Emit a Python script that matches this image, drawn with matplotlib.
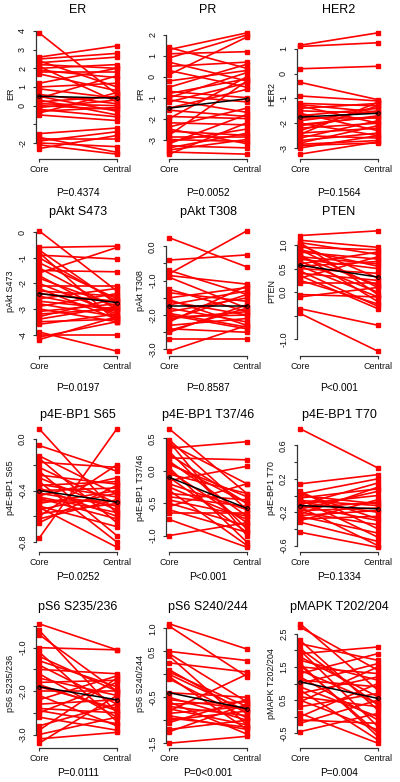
import numpy as np
import matplotlib
matplotlib.use('Agg')
import matplotlib.pyplot as plt

plt.rcParams['font.family'] = ['Liberation Sans', 'DejaVu Sans']
plt.rcParams['axes.unicode_minus'] = False

# paired values (Core -> Central), one pair per tumour
er_core    = [3.9, 2.6, 2.5, 2.4, 2.3, 2.2, 2.1, 2.0, 1.9, 1.8, 1.7, 1.2, 1.0, 0.9, 0.6, 0.5, 0.4, 0.3, 0.2, 0.1, 0.0, -0.1, -0.2, -0.3, -0.4, -0.5, -1.5, -1.7, -1.8, -1.9, -2.0, -2.1, -2.3]
er_central = [0.6, 3.2, 2.8, 1.0, 2.6, 2.0, 0.2, 2.2, 1.5, 1.8, 0.8, 2.0, 1.2, 0.4, 0.1, -0.3, 1.6, -0.5, 0.5, 0.0, -0.2, 0.3, -0.6, -0.1, 0.7, -0.8, -1.2, -2.5, -1.8, -1.4, -2.2, -2.6, -1.6]

pr_core    = [1.4, 1.3, 1.1, 0.9, 0.5, 0.3, 0.1, -0.2, -0.5, -0.8, -0.9, -1.0, -1.2, -1.5, -1.6, -2.0, -2.2, -2.4, -2.6, -2.8, -3.0, -3.1, -3.2, -3.3, -3.4, -3.5, -3.6, -3.7, -2.5, -1.9, -0.7, 0.7, -1.1, -2.9]
pr_central = [0.4, 2.1, 1.2, 2.0, 0.7, -0.5, 1.9, 0.3, 0.6, -0.1, -1.2, 0.2, -0.3, -0.6, -1.9, 0.0, -2.3, -1.5, -2.8, -0.2, -3.1, -2.5, -1.8, -3.4, -2.7, -3.0, -3.7, -2.2, -3.2, -2.0, -1.0, -0.2, -1.7, -2.9]

her2_core    = [1.15, 1.1, 0.2, -0.35, -0.9, -1.2, -1.3, -1.4, -1.5, -1.6, -1.7, -1.8, -1.9, -2.0, -2.1, -2.2, -2.3, -2.4, -2.5, -2.6, -2.7, -2.8, -2.85, -2.9, -3.0, -3.25, -1.25, -2.05, -2.45]
her2_central = [1.65, 1.25, 0.3, -1.05, -1.1, -1.3, -2.0, -1.2, -1.6, -2.3, -1.4, -1.8, -1.5, -2.5, -1.7, -2.0, -1.3, -2.2, -2.6, -1.9, -2.4, -2.1, -2.7, -2.8, -2.5, -2.75, -1.55, -1.75, -1.15]

s473_core    = [0.05, -0.6, -0.7, -0.8, -0.9, -1.2, -1.4, -1.5, -1.6, -1.8, -2.0, -2.1, -2.2, -2.3, -2.4, -2.5, -2.6, -2.7, -2.8, -2.9, -3.0, -3.1, -3.2, -3.3, -3.5, -3.6, -3.9, -4.0, -4.1, -4.2, -1.0, -1.7, -3.4]
s473_central = [-2.3, -0.55, -2.8, -3.5, -1.05, -2.6, -3.0, -1.55, -0.6, -2.9, -3.2, -2.1, -3.4, -2.5, -2.7, -3.1, -2.2, -3.0, -3.3, -2.4, -3.5, -2.8, -3.0, -2.6, -3.4, -3.2, -4.65, -4.0, -3.5, -3.3, -2.7, -3.3, -2.9]

t308_core    = [0.25, -0.4, -0.7, -0.8, -0.85, -0.9, -1.35, -1.5, -1.6, -1.7, -1.8, -1.9, -2.0, -2.1, -2.2, -2.3, -2.4, -2.5, -2.7, -3.05, -1.55, -2.05, -2.45, -1.25, -1.95, -2.15]
t308_central = [-0.6, -0.25, -1.4, 0.45, -1.1, -1.8, -1.6, -1.2, -2.0, -1.3, -2.2, -1.5, -2.4, -1.9, -1.15, -2.1, -2.5, -1.7, -2.7, -2.3, -2.3, -2.0, -1.8, -1.9, -2.35, -1.4]

pten_core    = [1.2, 1.1, 1.05, 1.0, 0.95, 0.9, 0.85, 0.8, 0.75, 0.7, 0.65, 0.6, 0.55, 0.5, 0.45, 0.4, 0.35, 0.3, 0.2, 0.25, -0.1, -0.05, -0.35, -0.45, 0.9, 1.05, 0.75, 0.55]
pten_central = [1.3, 0.95, 0.8, 0.3, 0.9, 0.1, 0.7, -0.2, 0.6, 0.5, 0.0, 0.85, -0.1, 0.4, -0.3, 0.25, -0.35, 0.75, 0.2, -0.25, 0.1, -0.1, -0.7, -1.25, 0.55, -0.05, 0.15, 0.65]

s65_core    = [0.08, -0.05, -0.13, -0.15, -0.18, -0.22, -0.25, -0.28, -0.3, -0.33, -0.35, -0.38, -0.4, -0.42, -0.44, -0.46, -0.48, -0.5, -0.52, -0.55, -0.58, -0.6, -0.62, -0.65, -0.77, -0.53, -0.45, -0.36]
s65_central = [-0.58, -0.25, -0.43, -0.65, -0.22, -0.5, -0.75, -0.35, -0.55, -0.8, -0.45, -0.6, -0.38, -0.52, -0.3, -0.62, -0.48, -0.4, -0.68, -0.42, -0.5, -0.2, -0.47, -0.36, 0.08, -0.84, -0.57, -0.33]

t3746_core    = [0.65, 0.48, 0.42, 0.35, 0.3, 0.25, 0.2, 0.15, 0.1, 0.05, 0.0, -0.05, -0.1, -0.15, -0.2, -0.25, -0.3, -0.35, -0.4, -0.5, -0.55, -0.65, -0.75, -1.0, 0.45, -0.45, 0.12, -0.6]
t3746_central = [-0.35, -0.6, -0.2, 0.45, -0.9, -0.5, 0.17, -0.7, -0.4, -1.1, -0.8, -0.35, -0.95, 0.07, -0.6, -0.75, -1.15, -0.45, -0.55, -0.85, -0.2, -0.65, -1.18, -0.8, -1.0, -0.7, -0.5, -0.95]

t70_core    = [0.8, 0.14, 0.05, 0.02, 0.0, -0.03, -0.05, -0.08, -0.1, -0.12, -0.14, -0.16, -0.18, -0.2, -0.22, -0.25, -0.28, -0.3, -0.32, -0.44, -0.06, -0.15, -0.24, 0.03, -0.11]
t70_central = [0.33, 0.25, -0.4, 0.2, -0.1, 0.08, -0.5, -0.2, 0.0, -0.3, -0.6, 0.05, -0.15, -0.35, 0.1, -0.45, -0.25, -0.05, -0.55, -0.62, -0.12, -0.08, -0.18, -0.28, 0.15]

s235_core    = [-0.45, -0.6, -0.7, -1.0, -1.1, -1.3, -1.4, -1.5, -1.6, -1.7, -1.8, -1.9, -2.0, -2.1, -2.2, -2.3, -2.4, -2.5, -2.6, -2.8, -2.9, -3.0, -3.1, -3.2, -1.2, -2.45, -1.85]
s235_central = [-1.05, -2.5, -2.0, -1.05, -2.7, -1.9, -2.3, -1.6, -2.6, -2.1, -1.75, -2.4, -2.0, -2.8, -1.65, -2.2, -2.5, -1.8, -2.9, -2.3, -1.7, -2.6, -2.95, -2.1, -2.0, -2.75, -2.45]

s240_core    = [1.1, 1.05, 0.5, 0.45, 0.4, 0.25, 0.05, 0.0, -0.05, -0.1, -0.4, -0.5, -0.55, -0.6, -0.65, -0.7, -0.75, -0.8, -0.85, -0.9, -1.0, -1.05, -1.2, -1.25, -1.5, -0.95, 0.1]
s240_central = [0.55, -0.05, 0.3, -0.6, -1.1, 0.05, -0.7, -0.8, -1.2, -0.95, -0.5, -1.0, -0.75, -1.3, -0.6, -0.9, -1.1, 0.0, -0.7, -1.2, -0.8, -0.55, -1.0, -0.65, -1.35, -1.15, -0.85]

mapk_core    = [2.8, 2.7, 2.3, 2.2, 2.0, 1.9, 1.8, 1.7, 1.6, 1.5, 1.4, 1.3, 1.2, 1.1, 1.0, 0.9, 0.8, 0.7, 0.6, 0.5, 0.3, 0.1, 0.0, -0.1, -0.2, -0.45, 1.55, 0.45, 2.05]
mapk_central = [0.8, 1.4, 0.2, 1.7, -0.3, 2.1, 0.6, 1.1, -0.6, 1.3, 0.4, 1.9, -0.1, 0.9, 1.6, 0.0, -0.7, 1.2, 0.3, -0.4, 0.7, -0.8, 1.0, -0.2, 0.5, 0.1, -0.5, 1.5, 0.35]

# group means (black line)
mean_core    = [0.5, -1.5, -1.75, -2.4, -1.75, 0.57, -0.4, -0.1, -0.12, -1.9, -0.4, 1.05]
mean_central = [0.4, -1.05, -1.6, -2.75, -1.75, 0.32, -0.49, -0.58, -0.16, -2.2, -0.75, 0.55]

titles = ['ER', 'PR', 'HER2', 'pAkt S473', 'pAkt T308', 'PTEN',
          'p4E-BP1 S65', 'p4E-BP1 T37/46', 'p4E-BP1 T70',
          'pS6 S235/236', 'pS6 S240/244', 'pMAPK T202/204']
pvals = ['P=0.4374', 'P=0.0052', 'P=0.1564', 'P=0.0197', 'P=0.8587', 'P<0.001',
         'P=0.0252', 'P<0.001', 'P=0.1334', 'P=0.0111', 'P=0<0.001', 'P=0.004']

# y ticks and their labels ('' = tick without label, as R drops overlapping ones)
yticks = [
    ([-2, -1, 0, 1, 2, 3, 4], ['-2', '', '0', '1', '2', '3', '4']),
    ([-3, -2, -1, 0, 1, 2], ['-3', '-2', '-1', '0', '1', '2']),
    ([-3, -2, -1, 0, 1], ['-3', '-2', '-1', '0', '1']),
    ([-4, -3, -2, -1, 0], ['-4', '-3', '-2', '-1', '0']),
    ([-3, -2.5, -2, -1.5, -1, -0.5, 0], ['-3.0', '', '-2.0', '', '-1.0', '', '0.0']),
    ([-1, -0.5, 0, 0.5, 1], ['-1.0', '', '0.0', '0.5', '1.0']),
    ([-0.8, -0.6, -0.4, -0.2, 0], ['-0.8', '', '-0.4', '', '0.0']),
    ([-1, -0.5, 0, 0.5], ['-1.0', '-0.5', '0.0', '0.5']),
    ([-0.6, -0.4, -0.2, 0, 0.2, 0.4, 0.6], ['-0.6', '', '-0.2', '', '0.2', '', '0.6']),
    ([-3, -2.5, -2, -1.5, -1, -0.5], ['-3.0', '', '-2.0', '', '-1.0', '']),
    ([-1.5, -1, -0.5, 0, 0.5, 1], ['-1.5', '', '-0.5', '', '0.5', '1.0']),
    ([-0.5, 0, 0.5, 1, 1.5, 2, 2.5], ['-0.5', '', '0.5', '', '1.5', '', '2.5']),
]

pairs = [(er_core, er_central), (pr_core, pr_central), (her2_core, her2_central),
         (s473_core, s473_central), (t308_core, t308_central), (pten_core, pten_central),
         (s65_core, s65_central), (t3746_core, t3746_central), (t70_core, t70_central),
         (s235_core, s235_central), (s240_core, s240_central), (mapk_core, mapk_central)]

W, H = 400, 782
fig = plt.figure(figsize=(W / 100, H / 100), dpi=100)

col_left = [36, 166, 297]
ax_w = 84
row_box = [(28, 159), (226, 356), (424, 552), (619, 748)]   # top, bottom (px)
title_y = [10, 212, 415, 607]
p_y = [193, 388, 577, 773]
axcol = '#333333'

for i in range(12):
    r, c = divmod(i, 3)
    top, bot = row_box[r]
    left = col_left[c]
    ax = fig.add_axes([left / W, 1 - bot / H, ax_w / W, (bot - top) / H])
    core, central = pairs[i]
    for a, b in zip(core, central):
        ax.plot([1, 2], [a, b], color='#FF0000', lw=1.2, marker='s', ms=2.6,
                mec='#FF0000', mfc='#FF0000', solid_capstyle='butt')
    ax.plot([1, 2], [mean_core[i], mean_central[i]], color='black', lw=1.1,
            marker='o', ms=2.6, mfc='none', mec='black', mew=0.7, zorder=5)

    allv = np.array(core + central)
    lo, hi = allv.min(), allv.max()
    pad = 0.04 * (hi - lo)
    ax.set_ylim(lo - pad, hi + pad)
    ax.set_xlim(0.96, 2.04)

    tk, lb = yticks[i]
    ax.set_yticks(tk)
    ax.set_yticklabels(lb, rotation=90, va='center', fontsize=6.5)
    ax.set_xticks([1, 2])
    ax.set_xticklabels(['Core', 'Central'], fontsize=6.5)
    ax.tick_params(axis='both', length=2.4, width=0.8, color=axcol, labelcolor='#111111')
    ax.tick_params(axis='x', pad=2)
    ax.tick_params(axis='y', pad=4)

    for s in ['top', 'right']:
        ax.spines[s].set_visible(False)
    ax.spines['left'].set_bounds(min(tk), max(tk))
    ax.spines['bottom'].set_bounds(1, 2)
    for s in ['left', 'bottom']:
        ax.spines[s].set_color(axcol)
        ax.spines[s].set_linewidth(0.9)
    ax.patch.set_alpha(0)

    ax.set_ylabel(titles[i], fontsize=6.5, color='#111111')
    ax.yaxis.set_label_coords(-21 / ax_w, 0.5)

    cx = (left + ax_w / 2) / W
    fig.text(cx, 1 - title_y[r] / H, titles[i], ha='center', va='center', fontsize=9)
    fig.text(cx, 1 - p_y[r] / H, pvals[i], ha='center', va='center', fontsize=7.3)

fig.savefig('out.png', dpi=100)
